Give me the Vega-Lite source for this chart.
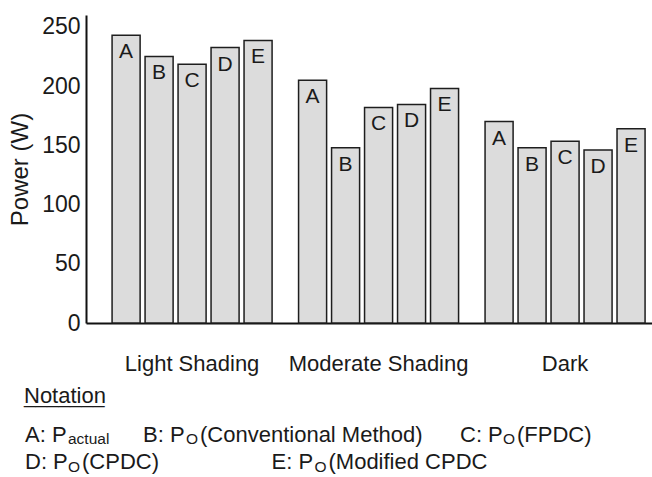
{
  "$schema": "https://vega.github.io/schema/vega-lite/v6.json",
  "autosize": {"type": "none"},
  "padding": {"left": 86, "top": 15, "right": 0, "bottom": 154},
  "width": 566,
  "height": 308,
  "config": {
    "font": "Liberation Sans",
    "view": {"stroke": null},
    "text": {"font": "Liberation Sans", "color": "#1a1a1a"}
  },
  "datasets": {
    "power": [
      {"shading": "Light Shading", "method": "A", "power": 243},
      {"shading": "Light Shading", "method": "B", "power": 225},
      {"shading": "Light Shading", "method": "C", "power": 218.5},
      {"shading": "Light Shading", "method": "D", "power": 232.5},
      {"shading": "Light Shading", "method": "E", "power": 238.5},
      {"shading": "Moderate Shading", "method": "A", "power": 205},
      {"shading": "Moderate Shading", "method": "B", "power": 148},
      {"shading": "Moderate Shading", "method": "C", "power": 182},
      {"shading": "Moderate Shading", "method": "D", "power": 184.5},
      {"shading": "Moderate Shading", "method": "E", "power": 198},
      {"shading": "Dark", "method": "A", "power": 170},
      {"shading": "Dark", "method": "B", "power": 148},
      {"shading": "Dark", "method": "C", "power": 153.5},
      {"shading": "Dark", "method": "D", "power": 146},
      {"shading": "Dark", "method": "E", "power": 164}
    ],
    "notation": [
      {"order": 0, "line": 0, "key": "Notation", "sub": "", "desc": ""},
      {"order": 1, "line": 1, "key": "A: P", "sub": "actual", "desc": ""},
      {"order": 2, "line": 1, "key": "B: P", "sub": "O", "desc": "(Conventional Method)"},
      {"order": 3, "line": 1, "key": "C: P", "sub": "O", "desc": "(FPDC)"},
      {"order": 4, "line": 2, "key": "D: P", "sub": "O", "desc": "(CPDC)"},
      {"order": 5, "line": 2, "key": "E: P", "sub": "O", "desc": "(Modified CPDC"}
    ]
  },
  "layer": [
    {
      "data": {"name": "power"},
      "encoding": {
        "x": {
          "field": "shading",
          "type": "nominal",
          "sort": ["Light Shading", "Moderate Shading", "Dark"],
          "scale": {"paddingInner": 0.142, "paddingOuter": 0.0885, "align": 0.79},
          "axis": {
            "title": null,
            "labelAngle": 0,
            "labelFontSize": 22,
            "labelColor": "#1a1a1a",
            "labelPadding": 47,
            "labelBaseline": "alphabetic",
            "labelLimit": 400,
            "ticks": false,
            "domainColor": "#111111",
            "domainWidth": 2
          }
        },
        "xOffset": {
          "field": "method",
          "type": "nominal",
          "scale": {"paddingInner": 0.15, "paddingOuter": 0}
        },
        "y": {
          "field": "power",
          "type": "quantitative",
          "scale": {"domain": [0, 260], "nice": false},
          "axis": {
            "title": "Power (W)",
            "titleFontSize": 24,
            "titleFontWeight": "normal",
            "titleColor": "#1a1a1a",
            "titlePadding": 9,
            "values": [0, 50, 100, 150, 200, 250],
            "labelFontSize": 23,
            "labelColor": "#1a1a1a",
            "labelPadding": 6,
            "ticks": false,
            "grid": false,
            "domainColor": "#111111",
            "domainWidth": 2
          }
        }
      },
      "layer": [
        {"mark": {"type": "bar", "fill": "#dcdcdc", "stroke": "#1e1e1e", "strokeWidth": 1.5}},
        {
          "mark": {"type": "text", "baseline": "alphabetic", "align": "center", "dy": 23, "fontSize": 21},
          "encoding": {"text": {"field": "method"}}
        }
      ]
    },
    {
      "data": {"name": "notation"},
      "encoding": {
        "x": {
          "field": "order",
          "type": "quantitative",
          "scale": {"domain": [0, 1, 2, 3, 4, 5], "range": [-62, -61, 57, 374, -61, 185.5], "nice": false, "zero": false},
          "axis": null
        },
        "y": {
          "field": "line",
          "type": "quantitative",
          "scale": {"domain": [0, 1, 2], "range": [388.3, 426.7, 454], "nice": false, "zero": false},
          "axis": null
        }
      },
      "layer": [
        {
          "mark": {"type": "text", "align": "left", "baseline": "alphabetic", "fontSize": 22},
          "encoding": {"text": {"field": "key"}}
        },
        {
          "mark": {"type": "text", "align": "left", "baseline": "alphabetic", "fontSize": 15.5, "dx": 43, "dy": 2.5},
          "encoding": {"text": {"field": "sub"}}
        },
        {
          "mark": {"type": "text", "align": "left", "baseline": "alphabetic", "fontSize": 22, "dx": 57},
          "encoding": {"text": {"field": "desc"}}
        },
        {
          "transform": [{"filter": "datum.line == 0"}],
          "mark": {"type": "text", "align": "left", "baseline": "alphabetic", "fontSize": 20.7},
          "encoding": {"text": {"value": "_______"}}
        }
      ]
    }
  ],
  "resolve": {"scale": {"x": "independent", "y": "independent"}}
}
